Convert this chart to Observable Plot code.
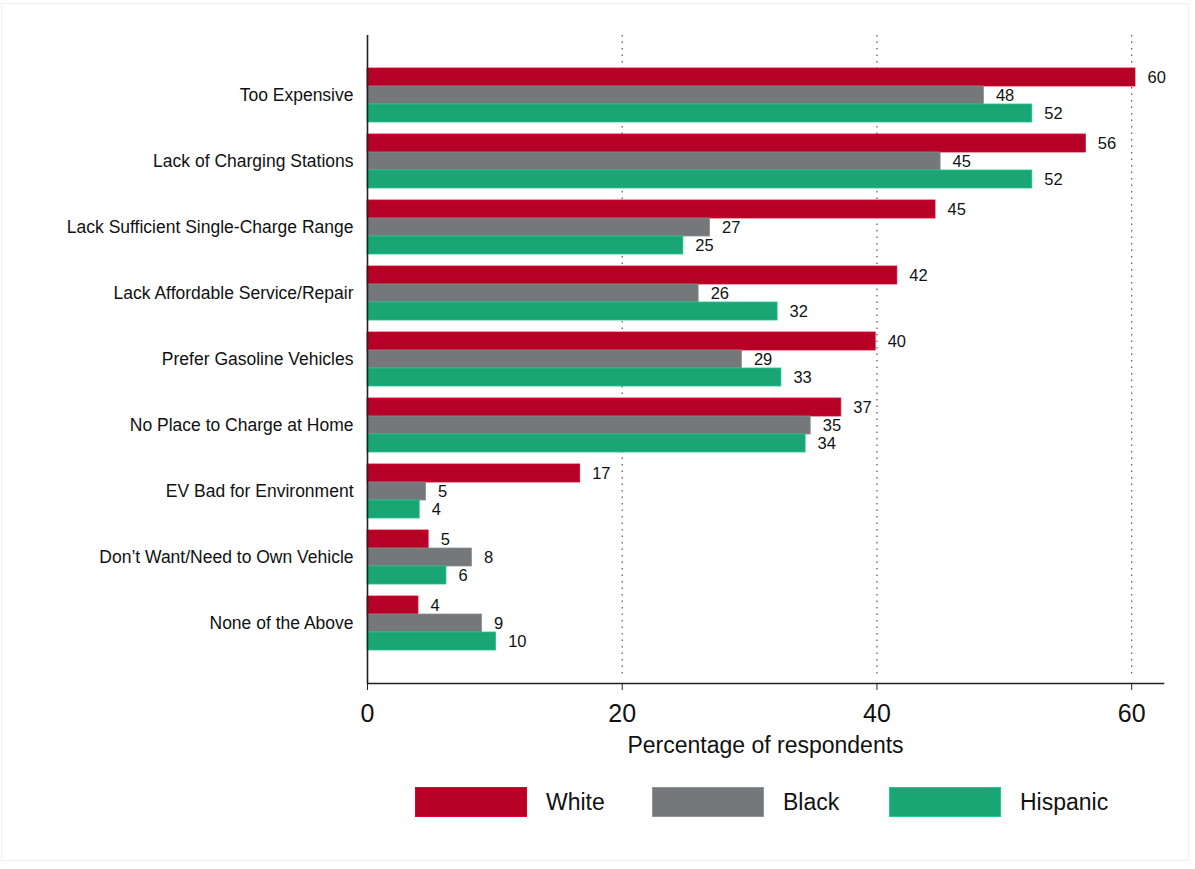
<!DOCTYPE html>
<html>
<head>
<meta charset="utf-8">
<script src="https://cdn.jsdelivr.net/npm/d3@7"></script>
<script src="https://cdn.jsdelivr.net/npm/@observablehq/plot@0.6"></script>
<style>
  html, body { margin: 0; padding: 0; background: #fff; }
  #frame { position: absolute; left: 1px; top: 3px; width: 1188px; height: 858px; border: 1px solid #f0f0f0; box-sizing: border-box; }
  #chart { position: absolute; left: 0; top: 0; }
  #legend { position: absolute; left: 415px; top: 787px; display: flex; font-family: "Liberation Sans", Arial, sans-serif; font-size: 23px; color: #111; }
  .item { width: 237px; display: flex; align-items: center; }
  .sw { width: 112px; height: 30px; box-sizing: border-box; margin-right: 19px; }
</style>
</head>
<body>
<div id="frame"></div>
<div id="chart"></div>
<div id="legend"></div>
<script>
const categories = [
  "Too Expensive",
  "Lack of Charging Stations",
  "Lack Sufficient Single-Charge Range",
  "Lack Affordable Service/Repair",
  "Prefer Gasoline Vehicles",
  "No Place to Charge at Home",
  "EV Bad for Environment",
  "Don’t Want/Need to Own Vehicle",
  "None of the Above"
];
const groups = ["White", "Black", "Hispanic"];
const white    = [60.3, 56.4, 44.6, 41.6, 39.9, 37.2, 16.7, 4.8, 4.0];
const black    = [48.4, 45.0, 26.9, 26.0, 29.4, 34.8, 4.6, 8.2, 9.0];
const hispanic = [52.2, 52.2, 24.8, 32.2, 32.5, 34.4, 4.1, 6.2, 10.1];
const colors = ["#b60026", "#75787b", "#1aa575"];
const xTicks = [0, 20, 40, 60];

const series = [white, black, hispanic];
const rows = (j) => categories.map((c, i) => ({category: c, group: groups[j], value: series[j][i]}));

const font = "'Liberation Sans', Arial, Helvetica, sans-serif";
const BAR = 18; // thickness of one sub-bar in pixels (style)

const barMarks = groups.flatMap((g, j) => [
  Plot.barX(rows(j), {
    x: "value", y: "category", fill: colors[j],
    insetTop: j * BAR, insetBottom: (2 - j) * BAR,
    stroke: d3.color(colors[j]).brighter(0.5).formatHex(), strokeWidth: 0.8
  }),
  Plot.text(rows(j), {
    x: "value", y: "category", text: d => String(Math.round(d.value)),
    textAnchor: "start", dx: 12, dy: (j - 1) * BAR, fontSize: 16.5, fill: "#111"
  })
]);

const chart = Plot.plot({
  width: 1195,
  height: 770,
  marginLeft: 367,
  marginRight: 32,
  marginTop: 35,
  marginBottom: 87,
  style: {fontFamily: font, color: "#111", background: "transparent"},
  x: {domain: [0, 62.5], label: null},
  y: {domain: categories, paddingInner: 12 / 66, paddingOuter: 0.5, label: null},
  marks: [
    Plot.ruleX(xTicks.slice(1), {stroke: "#555", strokeWidth: 1.2, strokeDasharray: "1.5,5", insetBottom: 8}),
    ...barMarks,
    Plot.axisY({tickSize: 0, tickPadding: 14, fontSize: 17.5, label: null}),
    Plot.ruleX([0], {stroke: "#222", strokeWidth: 1.6}),
    Plot.frame({anchor: "bottom", stroke: "#222", strokeWidth: 1.6}),
    Plot.axisX({ticks: xTicks, tickSize: 7, tickPadding: 14, fontSize: 25, label: null, stroke: "#222"}),
    Plot.text(["Percentage of respondents"], {frameAnchor: "bottom", dy: 69, fontSize: 23, fill: "#111"})
  ]
});
document.getElementById("chart").appendChild(chart);

const legend = document.getElementById("legend");
groups.forEach((g, i) => {
  const item = document.createElement("div");
  item.className = "item";
  const sw = document.createElement("div");
  sw.className = "sw";
  sw.style.background = colors[i];
  sw.style.border = "1px solid " + d3.color(colors[i]).brighter(0.6);
  const lab = document.createElement("span");
  lab.textContent = g;
  item.appendChild(sw);
  item.appendChild(lab);
  legend.appendChild(item);
});
</script>
</body>
</html>
